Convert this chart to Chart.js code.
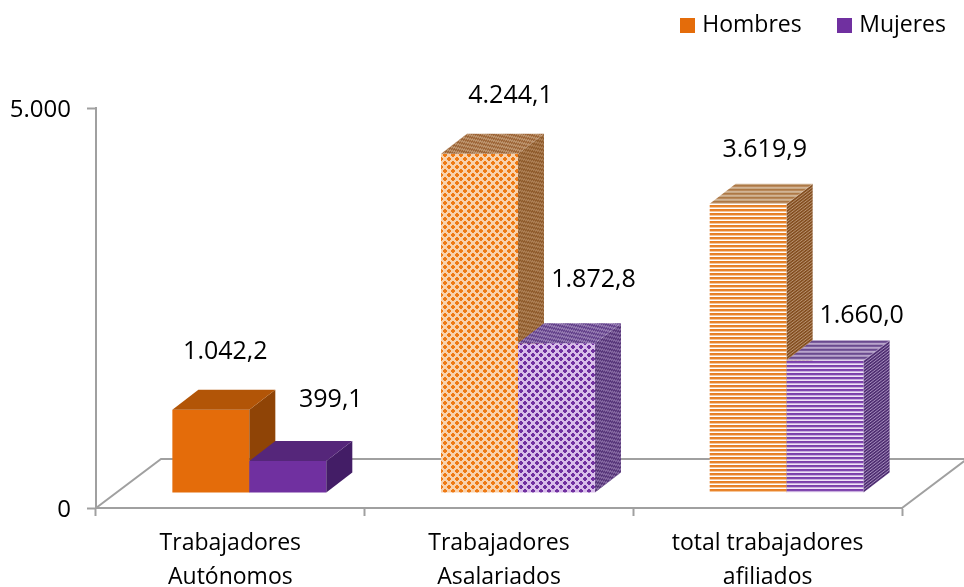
<!DOCTYPE html>
<html lang="es">
<head>
<meta charset="utf-8">
<style>html,body{margin:0;padding:0;background:#fff}canvas{display:block}</style>
<script src="https://cdn.jsdelivr.net/npm/chart.js@4/dist/chart.umd.min.js"></script>
</head>
<body>
<canvas id="c" width="964" height="587"></canvas>
<script>
const categories = [["Trabajadores","Autónomos"],["Trabajadores","Asalariados"],["total trabajadores","afiliados"]];
const hombres = [1042.2, 4244.1, 3619.9];
const mujeres = [399.1, 1872.8, 1660.0];
const seriesNames = ["Hombres","Mujeres"];
const valueLabelsHombres = ["1.042,2","4.244,1","3.619,9"];
const valueLabelsMujeres = ["399,1","1.872,8","1.660,0"];
const yTicks = {0:"0",5000:"5.000"};

const FONT = "'Open Sans'";
const ORANGE = "#E46C0A", PURPLE = "#7030A0", AXIS = "#A0A0A0";
const DEPTH_X = 26, DEPTH_Y = 20;          // bar depth
const FLOOR_X = 65, FLOOR_Y = 49;          // floor depth
const SHIFT_X = 19, SHIFT_Y = -15;         // bars sit inside the floor
const LEG_PAD = 40, LEG_FONT = 23;
const labelOffsets = [
  [[14.5,-58],[31,-58],[16.5,-54]],
  [[43,-61],[37,-63],[36.5,-44]]
];

function tile(w,h,paint){
  const c=document.createElement("canvas");c.width=w;c.height=h;
  const g=c.getContext("2d");paint(g);return c;
}
function swatch(col){return tile(15,15,g=>{g.fillStyle=col;g.fillRect(0,0,15,15);});}
function latticeTile(bg,fg){
  return tile(8,8,g=>{
    g.fillStyle=bg;g.fillRect(0,0,8,8);
    g.fillStyle=fg;
    [[2,2],[6,6]].forEach(([x,y])=>{g.fillRect(x-2,y-1,4,2);g.fillRect(x-1,y-2,2,4);});
  });
}
function fineTile(bg,fg){
  return tile(4,4,g=>{
    g.fillStyle=bg;g.fillRect(0,0,4,4);
    g.fillStyle=fg;
    g.fillRect(0,0,2,2);g.fillRect(2,2,2,2);
  });
}
function stripeTile(rows){
  return tile(1,rows.length,g=>{rows.forEach((col,i)=>{g.fillStyle=col;g.fillRect(0,i,1,1);});});
}
function pat(canvas,shear){
  const ctx=document.getElementById("c").getContext("2d");
  const p=ctx.createPattern(canvas,"repeat");
  if(shear&&p.setTransform)p.setTransform(new DOMMatrix([1,shear,0,1,0,0]));
  return p;
}
const shear=-DEPTH_Y/DEPTH_X;
const faces=[
  [ // Hombres
    {front:ORANGE, side:"#8F4406", top:"#B25507"},
    {front:pat(latticeTile("#F9D2AC","#EE7A14")), side:pat(fineTile("#AD8056","#8E5A2A"),shear), top:pat(fineTile("#BE9670","#9C6436"),shear)},
    {front:pat(stripeTile(["#E67E22","#E8842C","#F6C69A","#FFFFFF"])), side:pat(stripeTile(["#7E4A1E","#8C5727","#B99270"]),shear), top:pat(stripeTile(["#AD7846","#B98A5C","#D2B496","#C8A884"]))}
  ],
  [ // Mujeres
    {front:PURPLE, side:"#431D66", top:"#55267A"},
    {front:pat(latticeTile("#D9BEEA","#7030A0")), side:pat(fineTile("#866AA2","#553478"),shear), top:pat(fineTile("#967CB2","#62408A"),shear)},
    {front:pat(stripeTile(["#7A3DAA","#8148B0","#C9AEDE","#EFE4F6"])), side:pat(stripeTile(["#4A2A6C","#553478","#A48CBC"]),shear), top:pat(stripeTile(["#6A4A8E","#7A5C9C","#B8A4CC","#A690BC"]))}
  ]
];

function drawFaces(ctx,meta,idx){
  meta.data.forEach((bar,i)=>{
    const l=bar.x-bar.width/2,r=bar.x+bar.width/2,t=bar.y,b=bar.base;
    ctx.fillStyle=faces[idx][i].side;
    ctx.beginPath();
    ctx.moveTo(r,t);ctx.lineTo(r+DEPTH_X,t-DEPTH_Y);ctx.lineTo(r+DEPTH_X,b-DEPTH_Y);ctx.lineTo(r,b);
    ctx.closePath();ctx.fill();
    ctx.fillStyle=faces[idx][i].top;
    ctx.beginPath();
    ctx.moveTo(l,t);ctx.lineTo(l+DEPTH_X,t-DEPTH_Y);ctx.lineTo(r+DEPTH_X,t-DEPTH_Y);ctx.lineTo(r,t);
    ctx.closePath();ctx.fill();
  });
}

const solid3d={
  id:"solid3d",
  beforeDatasetsDraw(chart){
    const {ctx,chartArea:a}=chart;
    ctx.save();
    ctx.strokeStyle=AXIS;ctx.lineWidth=2;
    ctx.beginPath();
    ctx.moveTo(a.left,a.bottom);
    ctx.lineTo(a.left+FLOOR_X,a.bottom-FLOOR_Y);
    ctx.lineTo(a.right+FLOOR_X,a.bottom-FLOOR_Y);
    ctx.moveTo(a.right,a.bottom);
    ctx.lineTo(a.right+FLOOR_X,a.bottom-FLOOR_Y);
    ctx.stroke();
    ctx.restore();
  },
  // Chart.js paints the last dataset first; the 3D stacking needs Hombres first.
  beforeDatasetDraw(chart,args){
    if(args.index===1)return false;
    chart.ctx.save();
    chart.ctx.translate(SHIFT_X,SHIFT_Y);
  },
  afterDatasetDraw(chart,args){
    const ctx=chart.ctx;
    drawFaces(ctx,args.meta,0);
    const m=chart.getDatasetMeta(1);
    m.controller.draw();
    drawFaces(ctx,m,1);
    ctx.restore();
  },
  afterDatasetsDraw(chart){
    const ctx=chart.ctx;
    ctx.save();
    ctx.fillStyle="#000";ctx.textAlign="center";ctx.textBaseline="middle";
    ctx.font="25px "+FONT;
    [valueLabelsHombres,valueLabelsMujeres].forEach((labels,d)=>{
      const meta=chart.getDatasetMeta(d);
      labels.forEach((txt,i)=>{
        const bar=meta.data[i],o=labelOffsets[d][i];
        ctx.fillText(txt,bar.x+SHIFT_X+o[0],bar.y+SHIFT_Y+o[1]);
      });
    });
    ctx.restore();
  },
  afterLayout(chart){
    const lg=chart.legend;
    lg.top=25-LEG_PAD-LEG_FONT/2;
    lg.right=946+LEG_PAD;
  }
};

new Chart(document.getElementById("c"),{
  type:"bar",
  data:{
    labels:categories,
    datasets:[
      {label:seriesNames[0],data:hombres,backgroundColor:faces[0].map(f=>f.front),swatch:swatch(ORANGE)},
      {label:seriesNames[1],data:mujeres,backgroundColor:faces[1].map(f=>f.front),swatch:swatch(PURPLE)}
    ]
  },
  plugins:[solid3d],
  options:{
    responsive:false,
    animation:false,
    events:[],
    layout:{padding:{left:0,right:62,top:35.4,bottom:0}},
    datasets:{bar:{barPercentage:1,categoryPercentage:0.573,borderWidth:0,clip:false}},
    plugins:{
      tooltip:{enabled:false},
      legend:{
        position:"top",align:"end",
        labels:{
          color:"#000",
          font:{family:FONT,size:LEG_FONT},
          padding:LEG_PAD,
          boxHeight:15,
          usePointStyle:true,
          pointStyleWidth:6,
          generateLabels(chart){
            return chart.data.datasets.map((d,i)=>({
              text:d.label,fillStyle:"#000",strokeStyle:"#000",lineWidth:0,pointStyle:d.swatch,datasetIndex:i,hidden:false
            }));
          }
        }
      }
    },
    scales:{
      x:{
        afterFit(s){s.height=79;},
        grid:{drawOnChartArea:false,drawTicks:true,tickLength:8,tickWidth:2,tickColor:AXIS,offset:true},
        border:{color:AXIS,width:2},
        ticks:{color:"#000",font:{family:FONT,size:23,lineHeight:1.45},padding:11,maxRotation:0,autoSkip:false}
      },
      y:{
        min:0,max:5000,
        afterFit(s){s.width=96;},
        grid:{drawOnChartArea:false,drawTicks:true,tickLength:9,tickWidth:2,tickColor:AXIS},
        border:{color:AXIS,width:2},
        afterBuildTicks(s){s.ticks=Object.keys(yTicks).map(v=>({value:+v}));},
        ticks:{color:"#000",font:{family:FONT,size:24},padding:16,labelOffset:2,callback:v=>yTicks[v]}
      }
    }
  }
});
</script>
</body>
</html>
